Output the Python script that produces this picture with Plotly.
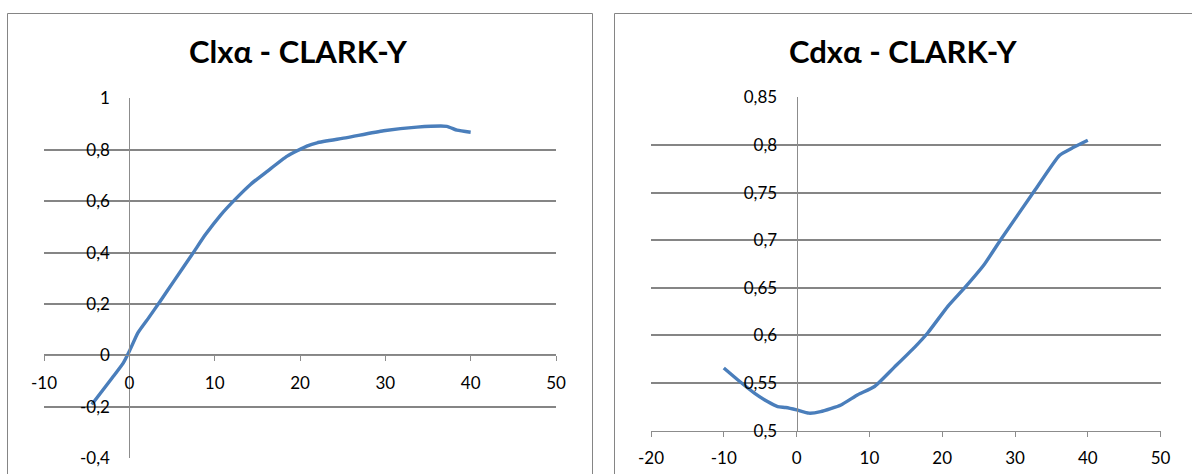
import plotly.graph_objects as go

# ---- data ----
cl_alpha = [-4.4, -2.0, -0.7, 0.0, 1.0, 2.3, 3.6, 5.2, 7.5, 8.9, 10.7, 12.4, 14.2,
            16.2, 18.5, 20.8, 22.0, 25.5, 29.8, 33.7, 37.2, 38.4, 40.0]
cl_values = [-0.191, -0.087, -0.029, 0.016, 0.088, 0.148, 0.21, 0.288, 0.400, 0.469,
             0.546, 0.607, 0.665, 0.717, 0.775, 0.814, 0.827, 0.847, 0.874, 0.888,
             0.891, 0.876, 0.868]

cd_alpha = [-10.0, -8.1, -5.8, -4.0, -2.6, -1.5, 0.0, 1.7, 3.3, 6.1, 8.4, 10.7, 13.4,
            16.2, 18.0, 20.8, 23.1, 25.8, 28.1, 32.7, 36.1, 37.7, 40.0]
cd_values = [0.5658, 0.5535, 0.5395, 0.5306, 0.5253, 0.5243, 0.5218, 0.5184, 0.520,
             0.527, 0.5377, 0.5464, 0.5665, 0.5875, 0.6026, 0.6308, 0.6502, 0.6748,
             0.7012, 0.7521, 0.789, 0.7961, 0.8049]

cl_xticks = [-10, 0, 10, 20, 30, 40, 50]
cl_yticks = [-0.4, -0.2, 0, 0.2, 0.4, 0.6, 0.8, 1]
cd_xticks = [-20, -10, 0, 10, 20, 30, 40, 50]
cd_yticks = [0.5, 0.55, 0.6, 0.65, 0.7, 0.75, 0.8, 0.85]

titles = ["Clxα - CLARK-Y", "Cdxα - CLARK-Y"]


def fmt(v):
    s = f"{v:g}".replace(".", ",")
    return s


W, H = 1192, 474
GRID = "#858585"
AXLINE = "#8c8c8c"
LINE = "#4a7ebb"
FONT = "Lato"

# pixel layout helpers
def px(x):
    return x / W

def py(y):
    return 1 - y / H

fig = go.Figure()
fig.add_trace(go.Scatter(x=cl_alpha, y=cl_values, mode="lines",
                         line=dict(color=LINE, width=3.4, shape="spline", smoothing=0.5),
                         xaxis="x", yaxis="y", showlegend=False, hoverinfo="skip"))
fig.add_trace(go.Scatter(x=cd_alpha, y=cd_values, mode="lines",
                         line=dict(color=LINE, width=3.4, shape="spline", smoothing=0.5),
                         xaxis="x2", yaxis="y2", showlegend=False, hoverinfo="skip"))

# left chart geometry
l_x0, l_x1 = 44, 556
l_ytop, l_ybot = 98.3, 458.3
l_dom_y = [py(l_ybot), py(l_ytop)]
l_yzero = l_ybot - (0 - (-0.4)) / 1.4 * (l_ybot - l_ytop)
l_xzero = l_x0 + (0 - (-10)) / 60 * (l_x1 - l_x0)

# right chart geometry
r_x0, r_x1 = 651, 1160.6
r_ytop, r_ybot = 97.3, 430.7
r_dom_y = [py(r_ybot), py(r_ytop)]
r_xzero = r_x0 + (0 - (-20)) / 70 * (r_x1 - r_x0)

tickfont = dict(family=FONT, size=17, color="#000000")

common = dict(automargin=False, fixedrange=True, showline=True, linecolor=AXLINE,
              linewidth=1, zeroline=False, tickfont=tickfont)

fig.update_layout(
    template="none",
    width=W, height=H, autosize=False,
    margin=dict(l=0, r=0, t=0, b=0, pad=0),
    paper_bgcolor="white", plot_bgcolor="white",
    font=dict(family=FONT),
    xaxis=dict(domain=[px(l_x0), px(l_x1)], range=[-10, 50], anchor="free",
               position=py(l_yzero), tickvals=cl_xticks,
               ticktext=[fmt(v) for v in cl_xticks],
               ticks="outside", ticklen=5, tickcolor=AXLINE, tickwidth=1,
               showgrid=False, ticklabelstandoff=7, **common),
    yaxis=dict(domain=l_dom_y, range=[-0.4, 1], anchor="free",
               position=px(l_xzero), tickvals=cl_yticks,
               ticktext=[fmt(v) for v in cl_yticks],
               ticks="", showgrid=True, gridcolor=GRID, gridwidth=1.5,
               ticklabelstandoff=16, **common),
    xaxis2=dict(domain=[px(r_x0), px(r_x1)], range=[-20, 50], anchor="y2",
                tickvals=cd_xticks, ticktext=[fmt(v) for v in cd_xticks],
                ticks="outside", ticklen=5, tickcolor=AXLINE, tickwidth=1,
                showgrid=False, ticklabelstandoff=7, **common),
    yaxis2=dict(domain=r_dom_y, range=[0.5, 0.85], anchor="free",
                position=px(r_xzero), tickvals=cd_yticks,
                ticktext=[fmt(v) for v in cd_yticks],
                ticks="", showgrid=True, gridcolor=GRID, gridwidth=1.5,
                ticklabelstandoff=16, **common),
    shapes=[
        dict(type="rect", xref="paper", yref="paper",
             x0=px(7.5), x1=px(592.5), y0=py(490), y1=py(13.5),
             line=dict(color=GRID, width=1), layer="below"),
        dict(type="rect", xref="paper", yref="paper",
             x0=px(614.5), x1=px(1210), y0=py(490), y1=py(13.5),
             line=dict(color=GRID, width=1), layer="below"),
    ],
    annotations=[
        dict(text=titles[0], xref="paper", yref="paper", x=px(298), y=py(51),
             xanchor="center", yanchor="middle", showarrow=False,
             font=dict(family=FONT, size=31, color="#000000", weight="bold")),
        dict(text=titles[1], xref="paper", yref="paper", x=px(903), y=py(51),
             xanchor="center", yanchor="middle", showarrow=False,
             font=dict(family=FONT, size=31, color="#000000", weight="bold")),
    ],
)

fig.write_html(
    "out.html",
    config={"displayModeBar": False},
    post_script="document.body.style.margin='0';document.body.style.overflow='hidden';",
)
